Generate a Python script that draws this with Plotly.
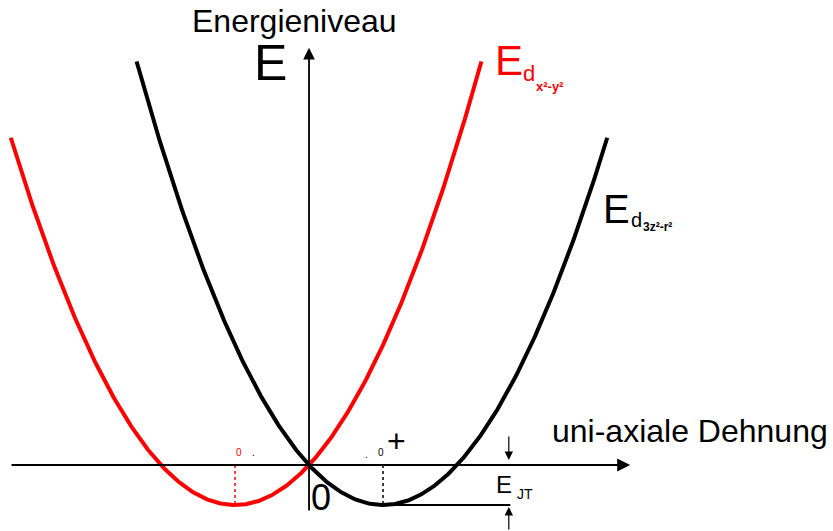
import numpy as np
import plotly.graph_objects as go

# Jahn-Teller splitting of the e_g levels under uniaxial strain Q
Q0 = 1.0          # equilibrium distortion of each branch (in units of Q0)
E_JT = 1.0        # Jahn-Teller stabilisation energy (in units of E_JT)
red_q_range = [-4.03, 2.33]     # strain interval drawn for E_d(x2-y2)
black_q_range = [-2.33, 4.03]   # strain interval drawn for E_d(3z2-r2)

# plot frame, expressed in strain / energy units
x_range = [-4.176, 7.081]
y_range = [-1.65, 11.625]

W, H = 833, 531


def branch(q_lo, q_hi, q_min):
    q = np.linspace(q_lo, q_hi, 400)
    e = E_JT * ((q - q_min) ** 2 / Q0 ** 2 - 1.0)
    return q, e


qr, er = branch(red_q_range[0], red_q_range[1], -Q0)
qb, eb = branch(black_q_range[0], black_q_range[1], Q0)

fig = go.Figure()

# dotted markers of the minima
fig.add_trace(go.Scatter(x=[-Q0, -Q0], y=[0, -E_JT], mode="lines",
                         line=dict(color="#ff0000", width=1.5, dash="dot"),
                         hoverinfo="skip"))
fig.add_trace(go.Scatter(x=[Q0, Q0], y=[0, -E_JT], mode="lines",
                         line=dict(color="black", width=1.5, dash="dot"),
                         hoverinfo="skip"))
# E_JT reference line
fig.add_trace(go.Scatter(x=[Q0, 2.72], y=[-E_JT, -E_JT], mode="lines",
                         line=dict(color="black", width=2), hoverinfo="skip"))

fig.add_trace(go.Scatter(x=qr, y=er, mode="lines",
                         line=dict(color="#ff0000", width=4), hoverinfo="skip"))
fig.add_trace(go.Scatter(x=qb, y=eb, mode="lines",
                         line=dict(color="black", width=4), hoverinfo="skip"))


def px(x):
    return x / W


def py(y):
    return 1 - y / H


def label(text, x, y, size, color="black"):
    fig.add_annotation(text=text, x=px(x), y=py(y), xref="paper", yref="paper",
                       xanchor="left", yanchor="middle", showarrow=False,
                       borderpad=0,
                       font=dict(size=size, color=color,
                                 family="Liberation Sans, Arial, sans-serif"))


def arrow(x0, y0, x1, y1, width, size):
    fig.add_annotation(x=x1, y=y1, ax=x0, ay=y0, xref="x", yref="y",
                       axref="x", ayref="y", text="", showarrow=True,
                       arrowhead=2, arrowsize=size, arrowwidth=width,
                       arrowcolor="black")


# coordinate axes
arrow(-4.04, 0, 4.34, 0, 2, 1.3)
arrow(0, -1.175, 0, 10.43, 1.8, 1.3)
# E_JT markers
arrow(2.70, 0.75, 2.70, 0.125, 1.2, 1.4)
arrow(2.70, -1.65, 2.70, -1.05, 1.2, 1.4)

label("Energieniveau", 191, 21, 32)
label("E", 253, 63, 50)
label("E", 494, 61, 42, "#ff0000")
label("d", 522, 73, 22, "#ff0000")
label("<b>x²-y²</b>", 535, 87, 13, "#ff0000")
label("E", 602, 209, 40)
label("d", 630, 220, 20)
label("<b>3z²-r²</b>", 642, 227, 12)
label("uni-axiale Dehnung", 551, 431, 32)
label("0", 310, 497, 36)
label("+", 386, 441, 32)
label("0", 377, 452, 10)
label("0", 235, 452, 10, "#ff0000")
label(".", 251, 452, 10)
label(".", 364, 454, 10)
label("E", 495, 484, 24)
label("JT", 516, 494, 14)

fig.update_layout(
    width=W, height=H, margin=dict(l=0, r=0, t=0, b=0),
    paper_bgcolor="white", plot_bgcolor="white", showlegend=False,
    xaxis=dict(range=x_range, visible=False, fixedrange=True),
    yaxis=dict(range=y_range, visible=False, fixedrange=True),
)

fig.write_html("out.html")
